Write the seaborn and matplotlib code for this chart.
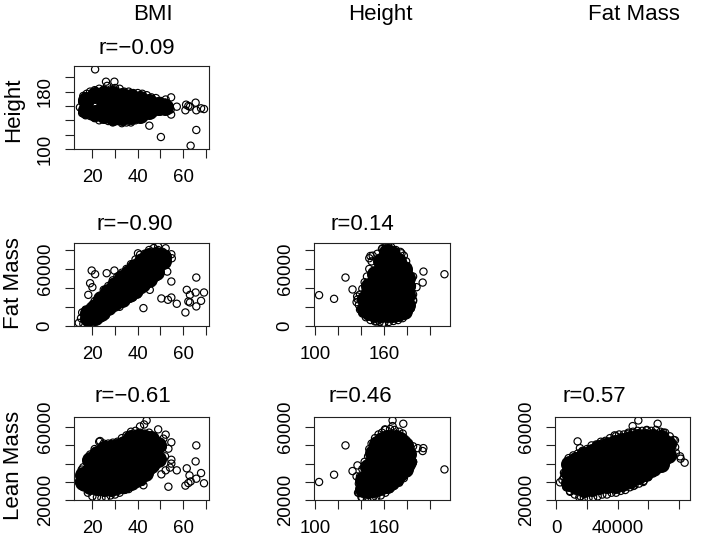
"""
plot.py - pairwise body composition scatter panels (BMI, Height, Fat Mass, Lean Mass).
"""

import matplotlib
matplotlib.use("Agg")
import matplotlib.pyplot as plt
import pandas as pd
import seaborn as sns

W, H = 707, 536

# ── Axis ticks ─────────────────────────────────────────────────────────────────
BMI_TICKS = [20, 30, 40, 50, 60, 70]
BMI_LABELS = ["20", "", "40", "", "60", ""]
BMI_LIM = (11.9, 71.4)
HEIGHT_X_TICKS = [100, 120, 140, 160, 180, 200]
HEIGHT_X_LABELS = ["100", "", "", "160", "", ""]
HEIGHT_X_LIM = (99.1, 217)
FAT_X_TICKS = [0, 20000, 40000, 60000, 80000]
FAT_X_LABELS = ["0", "", "40000", "", ""]
FAT_X_LIM = (-850, 87200)
HEIGHT_Y_TICKS = [100, 120, 140, 160, 180, 200]
HEIGHT_Y_LABELS = ["100", "", "", "", "180", ""]
HEIGHT_Y_LIM = (100, 215.7)
FAT_Y_TICKS = [0, 20000, 40000, 60000, 80000]
FAT_Y_LABELS = ["0", "", "", "60000", ""]
FAT_Y_LIM = (-300, 87400)
LEAN_Y_TICKS = [20000, 30000, 40000, 50000, 60000]
LEAN_Y_LABELS = ["20000", "", "", "", "60000"]
LEAN_Y_LIM = (20000, 65600)

COLUMN_NAMES = ["BMI", "Height", "Fat Mass"]
ROW_NAMES = ["Height", "Fat Mass", "Lean Mass"]

# ── Values ─────────────────────────────────────────────────────────────────────
# core = the solid overplotted mass, x -> y values; edge / out = single circles
BMI_HEIGHT_CORE = {
    17: [154, 168], 21: [150, 175], 25: [148, 160, 176], 29: [144, 160, 177], 33: [144, 160, 174],
    37: [146, 158, 172], 41: [148, 170], 45: [153, 166], 49: [158, 162], 52: [158],
}
BMI_HEIGHT_EDGE = [
    (14.5, 158), (15.5, 166), (16, 174), (17.5, 177), (19, 180), (21, 182), (23, 184), (25, 183),
    (26.5, 188), (28, 183), (30, 185), (32, 184), (34, 180), (36, 180), (38, 178), (40, 178),
    (42, 177), (44, 175), (46, 172), (48, 171), (50, 167), (52, 165), (54, 160), (54.5, 155),
    (52, 154), (50, 152), (47, 150), (45, 148), (43, 146), (41, 142), (39, 140), (37, 137),
    (35, 137), (33, 136), (31, 139), (29, 137), (27, 139), (25, 141), (23, 140), (21, 143),
    (19, 146), (17, 147), (15.5, 150),
]
BMI_HEIGHT_OUT = [
    (21.2, 211), (26, 193.8), (29.7, 193.8), (54.7, 172), (52.3, 169), (57.2, 159), (54.7, 148),
    (45.1, 132.5), (50.2, 116.7), (65.8, 126.5), (63.3, 104.6), (61.3, 161.8), (61, 154),
    (62.3, 160), (63, 159), (65.5, 164.6), (65.8, 154), (67.9, 156.7), (69.2, 155.7),
]

BMI_FAT_CORE = {
    18: [8000, 13000], 21: [9000, 20000], 24: [13000, 28000], 27: [20000, 36000],
    30: [25000, 34000, 43000], 33: [28000, 39000, 50000], 36: [33000, 45000, 56000],
    39: [38000, 50000, 62000], 42: [44000, 56000, 68000], 45: [49000, 62000, 74000],
    48: [57000, 66000, 75000], 51: [68000, 73000],
}
BMI_FAT_EDGE = [
    (14, 3000), (15, 8000), (15.5, 14000), (17, 17000), (19, 20000), (21, 26000), (23, 31000),
    (25, 38000), (27, 42000), (29, 48000), (31, 52000), (33, 56000), (35, 60000), (37, 65000),
    (39, 70000), (41, 75000), (43, 76000), (45, 80000), (47, 82000), (49, 80000), (51, 78000),
    (53, 74000), (52, 66000), (50, 60000), (48, 52000), (46, 47000), (44, 43000), (42, 38000),
    (40, 33000), (38, 30000), (36, 28000), (34, 25000), (32, 20000), (30, 19000), (28, 16000),
    (26, 11000), (24, 8000), (22, 5000), (20, 3000), (18, 2500), (16, 2000),
]
BMI_FAT_OUT = [
    (40.1, 76500), (49, 83500), (52.3, 81800), (54.8, 75500), (55, 71300), (53, 57200),
    (54.8, 46700), (48.3, 51200), (45.3, 37900), (42.5, 18600), (50.4, 28800), (53.3, 27400),
    (54.8, 29800), (57.2, 23200), (19.7, 58300), (21.2, 54400), (19, 44900), (20, 40700),
    (18.2, 32600), (26.3, 55500), (29.7, 58300), (61, 14000), (61.6, 37900), (63, 32600),
    (62.3, 25600), (63, 24600), (65.5, 35100), (65.8, 50900), (65.8, 20400), (67.9, 26300),
    (69.2, 35100),
]

BMI_LEAN_CORE = {
    16: [30000, 34000], 19: [27500, 36000, 42000], 22: [27000, 34000, 42000, 45500],
    25: [26500, 33000, 41000, 48000], 28: [26500, 33000, 41000, 48500],
    31: [27500, 35000, 43000, 49000], 34: [28500, 36000, 44000, 51000],
    37: [30000, 38000, 46000, 54000], 40: [32000, 40000, 48000, 54500],
    43: [35000, 43000, 51000, 54000], 46: [39000, 47000, 53500], 49: [42500, 50000],
}
BMI_LEAN_EDGE = [
    (14, 30000), (15, 34000), (16, 38000), (17.5, 42000), (19, 45000), (21, 48000), (23, 52000),
    (25, 51000), (27, 51000), (29, 51500), (31, 52000), (33, 54000), (35, 55500), (37, 57500),
    (39, 58000), (41, 57000), (43, 56500), (45, 57000), (47, 54500), (49, 52500), (51, 49000),
    (52, 44000), (50, 41000), (48, 38500), (46, 36000), (44, 33000), (42, 30000), (40, 29000),
    (38, 28000), (36, 26000), (34, 25500), (32, 24000), (30, 23000), (28, 22500), (26, 21500),
    (24, 21000), (22, 21500), (20, 22000), (18, 24000), (16, 27000),
]
BMI_LEAN_OUT = [
    (43.9, 63700), (42.8, 61500), (41, 60400), (49, 58800), (52.3, 55900), (51.3, 53700),
    (54.8, 51700), (53.5, 48200), (54.8, 42100), (54.8, 40000), (54.2, 37800), (57.2, 36300),
    (52.3, 36300), (50.4, 34100), (42.5, 28100), (53.5, 27300), (23.4, 52400), (15.3, 36700),
    (65.8, 50000), (65.5, 41200), (61.6, 37400), (62.8, 33500), (67.9, 34800), (65.8, 31700),
    (63.3, 30200), (62.3, 29300), (61, 27900), (69.2, 29200),
]

HEIGHT_FAT_CORE = {
    143: [18000, 28000], 147: [14000, 24000, 36000, 42000],
    152: [12000, 22000, 34000, 46000, 55000], 157: [12000, 21000, 33000, 45000, 57000, 68000],
    162: [12000, 21000, 33000, 45000, 57000, 69000, 78000],
    167: [12000, 21000, 33000, 45000, 57000, 69000, 76000],
    172: [13000, 22000, 34000, 46000, 58000, 68000], 177: [16000, 26000, 38000, 50000, 60000],
    180: [22000, 32000, 42000, 50000],
}
HEIGHT_FAT_EDGE = [
    (138, 22000), (137, 28000), (139, 33000), (141, 39000), (143, 46000), (145, 52000),
    (147, 60000), (149, 68000), (150, 74000), (154, 76000), (158, 81000), (162, 85000),
    (166, 83000), (170, 80000), (174, 78000), (177, 74000), (179, 68000), (181, 58000),
    (183, 50000), (184, 42000), (185, 33000), (185, 26000), (183, 18000), (180, 12000),
    (176, 8000), (172, 6000), (168, 5000), (164, 4000), (160, 3000), (156, 4000), (152, 4500),
    (148, 6000), (144, 9000), (141, 13000), (139, 17000),
]
HEIGHT_FAT_OUT = [
    (103.5, 32300), (116.5, 28400), (126.4, 50900), (132.5, 38300), (136.5, 30900), (136, 24900),
    (148, 73700), (147, 71300), (158.5, 81800), (163.5, 84200), (175, 76500), (185, 52000),
    (194, 57200), (193.3, 45600), (188, 40700), (212.2, 54400), (185, 27400), (153.3, 4600),
    (158.3, 2100),
]

HEIGHT_LEAN_CORE = {
    142: [26000, 31000], 146: [25500, 31000, 38000], 150: [26000, 33000, 41000, 46000],
    154: [26500, 33000, 41000, 48000, 51000], 158: [27500, 35000, 43000, 51000, 53000],
    162: [28500, 36000, 44000, 52000, 54000], 166: [30000, 38000, 46000, 54000],
    170: [32000, 40000, 48000, 54000], 174: [35000, 43000, 51000, 53000],
    178: [37000, 45000, 50000], 181: [41000, 45000],
}
HEIGHT_LEAN_EDGE = [
    (138, 24000), (138, 29000), (139, 33000), (141, 37000), (143, 41000), (146, 44000),
    (147, 48000), (149, 51000), (152, 54000), (155, 56000), (158, 57000), (161, 58500),
    (165, 59000), (169, 58500), (173, 57500), (176, 56500), (179, 53000), (182, 49000),
    (184, 45000), (185, 41000), (183, 38000), (180, 35000), (177, 32000), (173, 29500),
    (169, 28000), (165, 26000), (161, 24000), (157, 22500), (153, 21500), (149, 21000),
    (145, 20500), (141, 21000),
]
HEIGHT_LEAN_OUT = [
    (103.5, 29900), (116.5, 33900), (126.4, 50000), (132.5, 35900), (136.8, 39000), (136, 33000),
    (137.3, 24000), (140.2, 21600), (167.2, 63700), (167.2, 60600), (176.5, 61900),
    (160.6, 58800), (185, 49500), (189, 48500), (193.9, 48500), (193.3, 46900), (185, 40900),
    (212.2, 36800), (150.4, 21600),
]

FAT_LEAN_CORE = {
    8000: [29500, 35000, 40000], 13000: [27500, 34000, 42000], 18000: [26000, 32000, 40000, 44500],
    23000: [26500, 32500, 40500, 46500], 28000: [27500, 33500, 41500, 48500],
    33000: [28000, 34500, 42500, 49500], 38000: [28500, 35000, 43000, 51500],
    43000: [29500, 36000, 44000, 52500], 48000: [31000, 38000, 46000, 53500],
    53000: [33000, 40000, 48000, 54500], 58000: [35000, 42000, 50000, 54500],
    63000: [37500, 45000, 50000, 54500], 68000: [40000, 47000, 54000], 73000: [44500, 51000],
}
FAT_LEAN_EDGE = [
    (4000, 31000), (5000, 35000), (6500, 39000), (8000, 43000), (11000, 44500), (14000, 45500),
    (17000, 47000), (20000, 48000), (23000, 50000), (26000, 50500), (29000, 52000), (32000, 52500),
    (35000, 54000), (38000, 55500), (41000, 56000), (44000, 56000), (47000, 57000), (50000, 57500),
    (53000, 58000), (56000, 58000), (59000, 58500), (62000, 58000), (65000, 58500), (68000, 57500),
    (71000, 57000), (74000, 55000), (76500, 53000), (77500, 49000), (78000, 46000), (75000, 43500),
    (72000, 41000), (69000, 39000), (66000, 36500), (63000, 34500), (60000, 32500), (57000, 30500),
    (54000, 29000), (51000, 28000), (48000, 27000), (45000, 25500), (42000, 25000), (39000, 24000),
    (36000, 24000), (33000, 23000), (30000, 23000), (27000, 22000), (24000, 21500), (21000, 21000),
    (18000, 21000), (15000, 21500), (12000, 23000), (9000, 24500), (6500, 27000),
]
FAT_LEAN_OUT = [
    (2400, 29700), (5000, 32600), (13900, 52200), (15400, 48500), (8900, 24900), (15900, 22000),
    (50200, 27700), (56700, 29900), (53500, 63700), (49800, 60600), (66100, 61900), (38900, 55100),
    (30700, 51700), (33900, 52200), (58900, 58200), (47000, 56400), (77400, 52800), (80700, 44000),
    (81100, 42700), (83700, 40500), (69800, 57000),
]

# ── Panels: pixel box, ticks, data, r label and where it starts ────────────────
COL_BOX = [(74, 209), (314, 450), (555, 690)]
ROW_BOX = [(66, 149), (243, 326), (417, 500)]
X_AXES = [
    (BMI_TICKS, BMI_LABELS, BMI_LIM),
    (HEIGHT_X_TICKS, HEIGHT_X_LABELS, HEIGHT_X_LIM),
    (FAT_X_TICKS, FAT_X_LABELS, FAT_X_LIM),
]
Y_AXES = [
    (HEIGHT_Y_TICKS, HEIGHT_Y_LABELS, HEIGHT_Y_LIM),
    (FAT_Y_TICKS, FAT_Y_LABELS, FAT_Y_LIM),
    (LEAN_Y_TICKS, LEAN_Y_LABELS, LEAN_Y_LIM),
]
PANELS = [
    (0, 0, BMI_HEIGHT_CORE, BMI_HEIGHT_EDGE, BMI_HEIGHT_OUT, "r=\u22120.09", 98, 54),
    (1, 0, BMI_FAT_CORE, BMI_FAT_EDGE, BMI_FAT_OUT, "r=\u22120.90", 96, 230),
    (1, 1, HEIGHT_FAT_CORE, HEIGHT_FAT_EDGE, HEIGHT_FAT_OUT, "r=0.14", 330, 230),
    (2, 0, BMI_LEAN_CORE, BMI_LEAN_EDGE, BMI_LEAN_OUT, "r=\u22120.61", 95, 402),
    (2, 1, HEIGHT_LEAN_CORE, HEIGHT_LEAN_EDGE, HEIGHT_LEAN_OUT, "r=0.46", 329, 402),
    (2, 2, FAT_LEAN_CORE, FAT_LEAN_EDGE, FAT_LEAN_OUT, "r=0.57", 563, 402),
]

sns.set_style("ticks")
plt.rcParams["font.family"] = ["Liberation Sans", "DejaVu Sans"]
plt.rcParams["axes.unicode_minus"] = True

fig = plt.figure(figsize=(W / 100, H / 100), dpi=100)


def px_text(x, y, s, **kw):
    fig.text(x / W, 1 - y / H, s, fontsize=16, color="black", **kw)


for row, col, core, edge, out, r_label, r_x, r_y in PANELS:
    left, right = COL_BOX[col]
    top, bottom = ROW_BOX[row]
    ax = fig.add_axes([left / W, 1 - bottom / H, (right - left) / W, (bottom - top) / H])

    core_df = pd.DataFrame([(x, y) for x, ys in core.items() for y in ys], columns=["x", "y"])
    ring_df = pd.DataFrame(edge + out, columns=["x", "y"])
    sns.scatterplot(data=core_df, x="x", y="y", ax=ax, s=150, color="black", linewidth=0)
    sns.scatterplot(data=ring_df, x="x", y="y", ax=ax, s=27, facecolor="none",
                    edgecolor="black", linewidth=0.85)

    xticks, xlabels, xlim = X_AXES[col]
    yticks, ylabels, ylim = Y_AXES[row]
    ax.set_xlim(*xlim)
    ax.set_ylim(*ylim)
    ax.set_xticks(xticks, xlabels)
    ax.set_yticks(yticks, ylabels)
    ax.set_xlabel("")
    ax.set_ylabel("")
    ax.tick_params(axis="both", length=6.6, width=0.8, color="#222222", labelsize=13.4,
                   labelcolor="black")
    ax.tick_params(axis="x", pad=7.5)
    ax.tick_params(axis="y", pad=8)
    for lab in ax.get_yticklabels():
        lab.set_rotation(90)
        lab.set_va("center")
    for spine in ax.spines.values():
        spine.set_visible(True)
        spine.set_linewidth(0.8)
        spine.set_color("#222222")

    px_text(r_x, r_y, r_label, ha="left", va="baseline")

for name, x in zip(COLUMN_NAMES, [153, 380, 634]):
    px_text(x, 20, name, ha="center", va="baseline")
for name, y in zip(ROW_NAMES, [110, 283, 465]):
    px_text(14, y, name, ha="center", va="center", rotation=90)

fig.savefig("out.png", dpi=100)
